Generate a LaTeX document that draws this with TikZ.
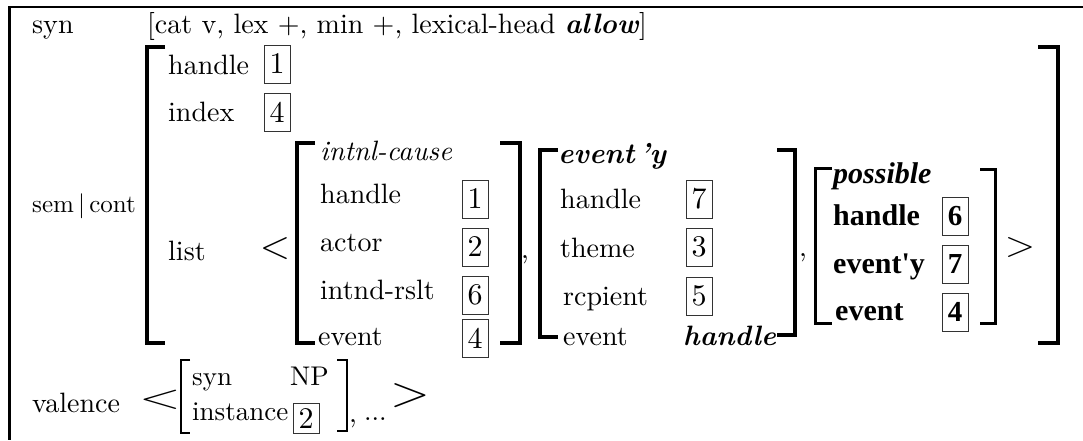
\documentclass[tikz,border=0pt]{standalone}
\usepackage{fontspec}
\setmainfont{lmroman10-regular.otf}[BoldFont=lmroman10-bold.otf, ItalicFont=lmroman10-italic.otf, BoldItalicFont=lmroman10-bolditalic.otf]
\newfontfamily\timesf{Liberation Serif}
\tikzset{
  lbl/.style={anchor=base west, inner sep=0pt, font=\fontsize{28}{30}\selectfont},
  vlbl/.style={anchor=base west, inner sep=0pt, font=\fontsize{27}{30}\selectfont},
  small/.style={anchor=base west, inner sep=0pt, font=\fontsize{25}{28}\selectfont},
  tlbl/.style={anchor=base west, inner sep=0pt, font=\timesf\bfseries\fontsize{30}{32}\selectfont},
  tag/.style={draw=black!80, line width=0.8pt, minimum width=26pt, minimum height=38pt, inner sep=0pt, font=\fontsize{30}{32}\selectfont},
  ttag/.style={tag, font=\timesf\bfseries\fontsize{29}{32}\selectfont},
  ang/.style={inner sep=0pt, font=\fontsize{24.88}{30}\selectfont},
  comma/.style={anchor=base, inner sep=0pt, font=\fontsize{28}{30}\selectfont},
  brk/.style={line width=4pt, line join=miter},
  tbrk/.style={line width=3pt, line join=miter},
  thbrk/.style={line width=1.5pt, line join=miter},
}
\begin{document}
\begin{tikzpicture}[x=1pt,y=-1pt]
\useasboundingbox (0,0) rectangle (1083,440);
% frame
\draw[line width=2.5pt] (8,7) -- (1083,7);
\draw[line width=3pt] (9.5,6) -- (9.5,440);
% syn row
\node[lbl] (syn) at (32,33) {syn};
\node[lbl] (synv) at (147,33) {[cat v, lex +, min +, lexical-head \textbf{\textit{allow}}]};
% big bracket
\draw[brk] (165,47) -- (147,47) -- (147,343) -- (165,343);
\draw[brk] (1038,47) -- (1058,47) -- (1058,343) -- (1038,343);
\node[lbl] (hA) at (168,74) {handle};
\node[tag] (bA1) at (277,64) {1};
\node[lbl] (iA) at (168,121) {index};
\node[tag] (bA4) at (277,112) {4};
\node[small] (sc) at (32,212) {sem\,|\,cont};
\node[lbl] (lst) at (168,260) {list};
\node[ang] (lt1) at (275,249) {\scalebox{1.6}{$<$}};
% intnl-cause
\draw[brk] (315,143) -- (297,143) -- (297,343) -- (315,343);
\draw[brk] (500,143) -- (520,143) -- (520,343) -- (500,343);
\node[lbl] (ic) at (320,160) {\textit{intnl-cause}};
\node[lbl] (ich) at (320,203) {handle};
\node[tag] (icb1) at (475,199) {1};
\node[lbl] (ica) at (320,251) {actor};
\node[tag] (icb2) at (475,247) {2};
\node[lbl] (icr) at (320,299) {intnd-rslt};
\node[tag] (icb6) at (475,295) {6};
\node[lbl] (ice) at (318,345) {event};
\node[tag] (icb4) at (475,338) {4};
\node[comma] (c1) at (525,258) {,};
% event'y
\draw[brk] (558,150) -- (540,150) -- (540,337) -- (558,337);
\draw[brk] (777,150) -- (795,150) -- (795,335) -- (777,335);
\node[lbl, font=\fontsize{29}{32}\selectfont] (ey) at (558,163) {\textbf{\textit{event\,\char"0027y}}};
\node[lbl] (eyh) at (560,208) {handle};
\node[tag] (eyb7) at (699,199) {7};
\node[lbl] (eyt) at (560,257) {theme};
\node[tag] (eyb3) at (699,247) {3};
\node[lbl] (eyr) at (563,305) {rcpient};
\node[tag] (eyb5) at (699,296) {5};
\node[lbl] (eye) at (563,345) {event};
\node[lbl] (eyeh) at (683,345) {\textbf{\textit{handle}}};
\node[comma] (c2) at (803,256) {,};
% possible
\draw[tbrk] (832,168) -- (815,168) -- (815,323) -- (832,323);
\draw[tbrk] (980,169) -- (995,169) -- (995,323) -- (980,323);
\node[tlbl] (pos) at (833,183) {\itshape possible};
\node[tlbl] (posh) at (833,225) {handle};
\node[ttag] (posb6) at (955,216) {6};
\node[tlbl] (posy) at (833,273) {event'y};
\node[ttag] (posb7) at (955,264) {7};
\node[tlbl] (pose) at (835,320) {event};
\node[ttag] (posb4) at (955,312) {4};
\node[ang] (gt1) at (1020,247) {\scalebox{1.6}[1.45]{$>$}};
% valence
\node[lbl] (val) at (32,412) {valence};
\node[ang] (lt2) at (160,400) {\scalebox{2.2}[1.4]{$<$}};
\draw[thbrk] (190,360) -- (181,360) -- (181,433) -- (190,433);
\draw[thbrk] (337,360) -- (347,360) -- (347,431) -- (337,431);
\node[vlbl] (vsyn) at (192,385) {syn};
\node[vlbl] (vnp) at (290,385) {NP};
\node[vlbl] (vinst) at (192,420) {instance};
\node[tag, minimum height=30pt] (vb2) at (306,418) {2};
\node[comma] (vc) at (353,422) {,};
\node[vlbl] (vdots) at (364,420) {...};
\node[ang] (gt2) at (410,396) {\scalebox{2.1}[1.75]{$>$}};
\end{tikzpicture}
\end{document}
